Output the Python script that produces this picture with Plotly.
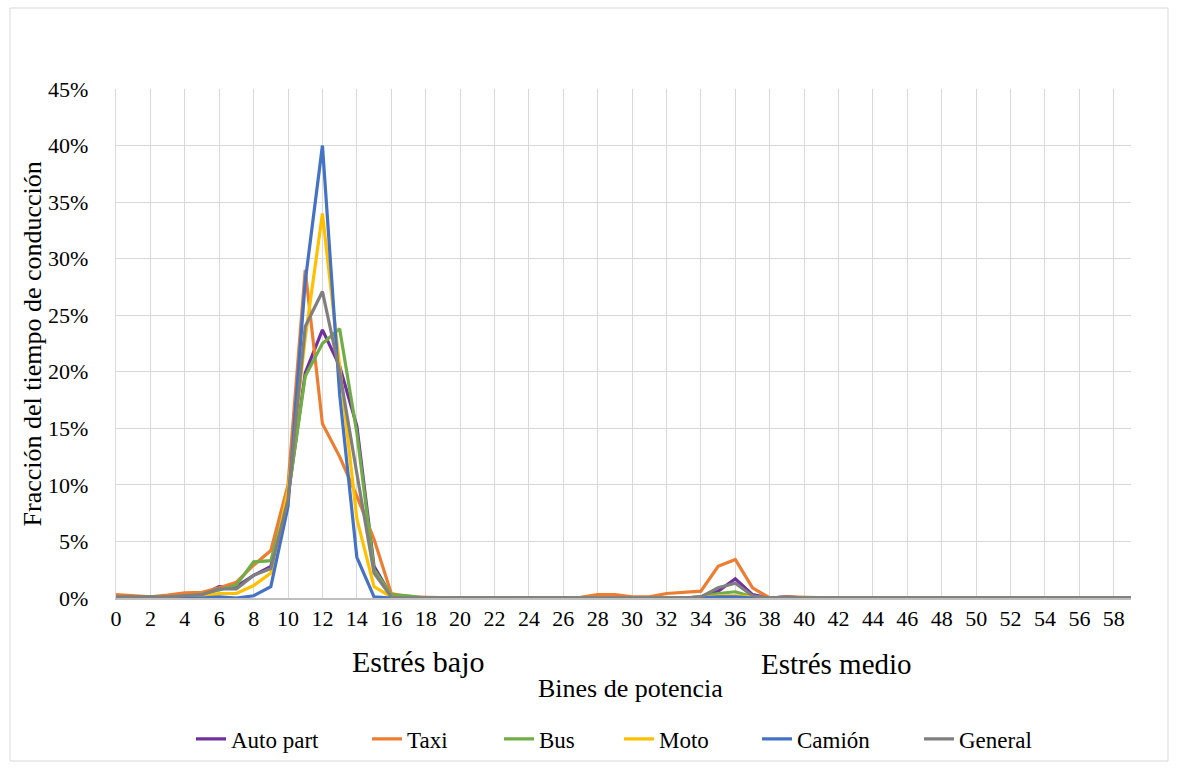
import plotly.graph_objects as go

bins = list(range(60))

auto_part = [0.1, 0.1, 0.05, 0.1, 0.2, 0.3, 1.0, 1.0, 2.0, 2.8,
             9.0, 19.9, 23.7, 20.5, 15.2, 2.8, 0.2, 0.1, 0, 0,
             0, 0, 0, 0, 0, 0, 0, 0, 0, 0,
             0, 0, 0, 0, 0.1, 0.6, 1.7, 0.3, 0, 0.1,
             0, 0, 0, 0, 0, 0, 0, 0, 0, 0,
             0, 0, 0, 0, 0, 0, 0, 0, 0, 0]
taxi = [0.3, 0.2, 0.1, 0.25, 0.45, 0.5, 0.9, 1.4, 2.9, 4.2,
        10.0, 29.0, 15.4, 12.5, 9.0, 5.2, 0.4, 0.1, 0.05, 0,
        0, 0, 0, 0, 0, 0, 0, 0.05, 0.3, 0.3,
        0.1, 0.1, 0.4, 0.5, 0.6, 2.8, 3.4, 0.9, 0, 0.1,
        0.05, 0, 0, 0, 0, 0, 0, 0, 0, 0,
        0, 0, 0, 0, 0, 0, 0, 0, 0, 0]
bus = [0.05, 0.05, 0.05, 0.1, 0.2, 0.3, 0.7, 1.15, 3.2, 3.3,
       9.0, 19.6, 22.5, 23.8, 14.6, 2.5, 0.3, 0.2, 0, 0,
       0, 0, 0, 0, 0, 0, 0, 0, 0, 0,
       0, 0, 0, 0, 0.1, 0.4, 0.55, 0.1, 0, 0,
       0, 0, 0, 0, 0, 0, 0, 0, 0, 0,
       0, 0, 0, 0, 0, 0, 0, 0, 0, 0]
moto = [0, 0, 0, 0.05, 0.1, 0.1, 0.4, 0.4, 1.1, 2.2,
        9.5, 23.0, 34.0, 20.5, 7.0, 1.0, 0.1, 0, 0, 0,
        0, 0, 0, 0, 0, 0, 0, 0, 0, 0,
        0, 0, 0, 0, 0, 0.2, 0.2, 0.1, 0, 0,
        0, 0, 0, 0, 0, 0, 0, 0, 0, 0,
        0, 0, 0, 0, 0, 0, 0, 0, 0, 0]
camion = [0, 0, 0, 0, 0, 0, 0.1, 0, 0.2, 1.0,
          8.1, 28.0, 40.0, 18.0, 3.6, 0.1, 0, 0, 0, 0,
          0, 0, 0, 0, 0, 0, 0, 0, 0, 0,
          0, 0, 0, 0, 0, 0.1, 0.1, 0, 0, 0,
          0, 0, 0, 0, 0, 0, 0, 0, 0, 0,
          0, 0, 0, 0, 0, 0, 0, 0, 0, 0]
general = [0.1, 0.1, 0.05, 0.1, 0.2, 0.3, 0.8, 0.8, 2.0, 2.6,
           8.7, 24.0, 27.1, 20.0, 11.0, 2.2, 0.1, 0, 0, 0,
           0, 0, 0, 0, 0, 0, 0, 0, 0, 0,
           0, 0, 0, 0, 0.1, 0.9, 1.3, 0.2, 0, 0.1,
           0, 0, 0, 0, 0, 0, 0, 0, 0, 0,
           0, 0, 0, 0, 0, 0, 0, 0, 0, 0]

series_names = ["Auto part", "Taxi", "Bus", "Moto", "Camión", "General"]
series_values = [auto_part, taxi, bus, moto, camion, general]
series_colors = ["#7030A0", "#ED7D31", "#70AD47", "#FFC000", "#4472C4", "#7F7F7F"]

x_tick_values = list(range(0, 59, 2))
y_tick_values = [i * 0.05 for i in range(10)]

FONT = "Liberation Serif, Times New Roman, serif"

# one legend per series so each entry sits where the reference has it
legend_text_px = [232, 408, 540, 660, 798, 960]
legend_ids = ["legend", "legend2", "legend3", "legend4", "legend5", "legend6"]

fig = go.Figure()
for name, vals, col, lid in zip(series_names, series_values, series_colors, legend_ids):
    fig.add_trace(go.Scatter(
        x=bins, y=[v / 100 for v in vals], mode="lines", name=name,
        line=dict(color=col, width=3.2), legend=lid,
    ))

legend_layout = {}
for lid, px in zip(legend_ids, legend_text_px):
    legend_layout[lid] = dict(
        orientation="h", xref="container", yref="container",
        x=(px - 41) / 1177, xanchor="left", y=(769 - 739) / 769, yanchor="middle",
        font=dict(family=FONT, size=23, color="#000000"),
        bgcolor="rgba(0,0,0,0)",
    )

fig.update_layout(
    width=1177, height=769,
    margin=dict(l=116, r=46, t=89, b=171),
    paper_bgcolor="white", plot_bgcolor="white",
    font=dict(family=FONT, size=22, color="#000000"),
    showlegend=True,
    xaxis=dict(
        range=[0, 59], tickmode="array", tickvals=x_tick_values,
        ticktext=[str(v) for v in x_tick_values],
        showgrid=True, gridcolor="#D9D9D9", gridwidth=1.3,
        zeroline=False, showline=True, linecolor="#BFBFBF", linewidth=2,
        ticks="", tickfont=dict(family=FONT, size=22, color="#000000"),
        fixedrange=True,
    ),
    yaxis=dict(
        range=[0, 0.45], tickmode="array", tickvals=y_tick_values,
        tickformat=".0%", showgrid=True, gridcolor="#D9D9D9", gridwidth=1.3,
        zeroline=False, showline=True, linecolor="#D9D9D9", linewidth=1.3,
        ticks="", ticklabelstandoff=22,
        tickfont=dict(family=FONT, size=22, color="#000000"),
        fixedrange=True,
    ),
    **legend_layout,
)

annos = [
    dict(text="Fracción del tiempo de conducción", x=-0.0818, y=0.5, textangle=-90, size=26),
    dict(text="Estrés bajo", x=(418 - 116) / 1015, y=(598 - 661) / 509, size=30),
    dict(text="Estrés medio", x=(836 - 116) / 1015, y=(598 - 664) / 509, size=29),
    dict(text="Bines de potencia", x=(630 - 116) / 1015, y=(598 - 688) / 509, size=26),
]
for a in annos:
    fig.add_annotation(xref="paper", yref="paper", showarrow=False,
                       xanchor="center", yanchor="middle",
                       text=a["text"], x=a["x"], y=a["y"],
                       textangle=a.get("textangle", 0),
                       font=dict(family=FONT, color="#000000", size=a["size"]))

fig.add_shape(type="rect", xref="paper", yref="paper",
              x0=(10 - 116) / 1015, x1=(1168 - 116) / 1015,
              y0=(598 - 761) / 509, y1=(598 - 8) / 509,
              line=dict(color="#D9D9D9", width=1), fillcolor="rgba(0,0,0,0)", layer="below")

fig.write_html("out.html")
